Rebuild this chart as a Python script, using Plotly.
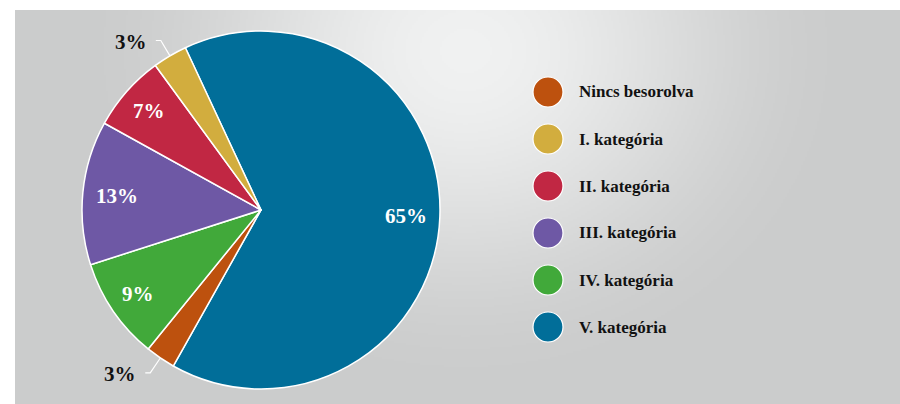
import base64
import math
import struct
import zlib

import numpy as np
import plotly.graph_objects as go

categories = ['Nincs besorolva', 'I. kategória', 'II. kategória',
              'III. kategória', 'IV. kategória', 'V. kategória']
shares = [2.7, 3.1, 6.9, 13.0, 9.2, 65.1]
share_labels = ['3%', '3%', '7%', '13%', '9%', '65%']
colors = ['#bd510e', '#d2ad3e', '#c12743', '#6e58a5', '#41a93a', '#016e99']
# order in which the slices run clockwise round the pie
slice_order = [5, 0, 4, 3, 2, 1]

W, H = 900, 404
cx, cy, R = 261, 210, 179
START = -25          # where the first slice starts, degrees clockwise from 12 o'clock
FONT = 'Liberation Serif'
FS = 21


def png_uri(rgb):
    h, w, _ = rgb.shape
    raw = b''.join(b'\x00' + rgb[i].tobytes() for i in range(h))

    def chunk(tag, data):
        c = struct.pack('>I', len(data)) + tag + data
        return c + struct.pack('>I', zlib.crc32(tag + data) & 0xffffffff)

    png = (b'\x89PNG\r\n\x1a\n'
           + chunk(b'IHDR', struct.pack('>IIBBBBB', w, h, 8, 2, 0, 0, 0))
           + chunk(b'IDAT', zlib.compress(raw, 9))
           + chunk(b'IEND', b''))
    return 'data:image/png;base64,' + base64.b64encode(png).decode()


# grey panel with a soft light spot near the top middle
px0, py0 = 15, 10
pw, ph = W - px0, H - py0
gx, gy = np.meshgrid(np.arange(0, pw, 2), np.arange(0, ph, 2))
d = np.sqrt(((gx - 450) / 390.0) ** 2 + ((gy - 40) / 340.0) ** 2)
t = np.clip(d, 0, 1)
t = t * t * (3 - 2 * t)
light = np.array([240, 241, 241])
dark = np.array([203, 204, 204])
img = light + (dark - light) * t[..., None]
bg = png_uri(img.round().astype(np.uint8))


def px(x, y):
    return x / W, 1 - y / H


fig = go.Figure()
fig.add_trace(go.Pie(
    labels=[categories[i] for i in slice_order],
    values=[shares[i] for i in slice_order],
    marker=dict(colors=[colors[i] for i in slice_order],
                line=dict(color='white', width=1.5)),
    sort=False, direction='clockwise', rotation=START,
    textinfo='none', showlegend=False,
    domain=dict(x=[(cx - R) / W, (cx + R) / W],
                y=[1 - (cy + R) / H, 1 - (cy - R) / H]),
))

annotations = []
shapes = []
total = sum(shares)
ang = START
for i in slice_order:
    span = shares[i] / total * 360
    mid = math.radians(ang + span / 2)
    ang += span
    s, c = math.sin(mid), math.cos(mid)
    if shares[i] < 5:
        ex, ey = cx + R * s, cy - R * c
        kx, ky = cx + 1.1 * R * s, cy - 1.1 * R * c
        hx = kx - 5
        p = [px(ex, ey), px(kx, ky), px(hx, ky)]
        shapes.append(dict(
            type='path', xref='paper', yref='paper',
            path='M {} {} L {} {} L {} {}'.format(*p[0], *p[1], *p[2]),
            line=dict(color='white', width=1.2)))
        x, y = px(hx - 7, ky + 1.5)
        annotations.append(dict(
            x=x, y=y, xref='paper', yref='paper', text=share_labels[i],
            xanchor='right', yanchor='middle', showarrow=False,
            font=dict(family=FONT, size=FS, color='#111111', weight='bold')))
    else:
        # keep the label box a fixed distance inside the rim
        w = 0.5 * FS * (len(share_labels[i]) + 1)
        dist = 166 - (abs(s) * w / 2 + abs(c) * 7)
        x, y = px(cx + dist * s, cy - dist * c)
        annotations.append(dict(
            x=x, y=y, xref='paper', yref='paper', text=share_labels[i],
            xanchor='center', yanchor='middle', showarrow=False,
            font=dict(family=FONT, size=FS, color='white', weight='bold')))

# legend drawn by hand, big round swatches
lx, ly, step, rad = 548, 92, 47, 15
for k, name in enumerate(categories):
    yk = ly + k * step
    x0, y0 = px(lx - rad, yk + rad)
    x1, y1 = px(lx + rad, yk - rad)
    shapes.append(dict(type='circle', xref='paper', yref='paper',
                       x0=x0, y0=y0, x1=x1, y1=y1,
                       fillcolor=colors[k], line=dict(color='white', width=1.2)))
    x, y = px(lx + 29, yk)
    annotations.append(dict(
        x=x, y=y, xref='paper', yref='paper', text=name,
        xanchor='left', yanchor='middle', showarrow=False,
        font=dict(family=FONT, size=17, color='#111111', weight='bold')))

fig.update_layout(
    width=W, height=H,
    margin=dict(l=0, r=0, t=0, b=0),
    paper_bgcolor='white', plot_bgcolor='white',
    images=[dict(source=bg, xref='paper', yref='paper',
                 x=px0 / W, y=1 - py0 / H, sizex=pw / W, sizey=ph / H,
                 xanchor='left', yanchor='top', sizing='stretch', layer='below')],
    shapes=shapes,
    annotations=annotations,
)

fig.write_html("out.html", config={'displayModeBar': False},
               post_script="document.body.style.margin='0';"
                           "document.body.style.overflow='hidden';")
